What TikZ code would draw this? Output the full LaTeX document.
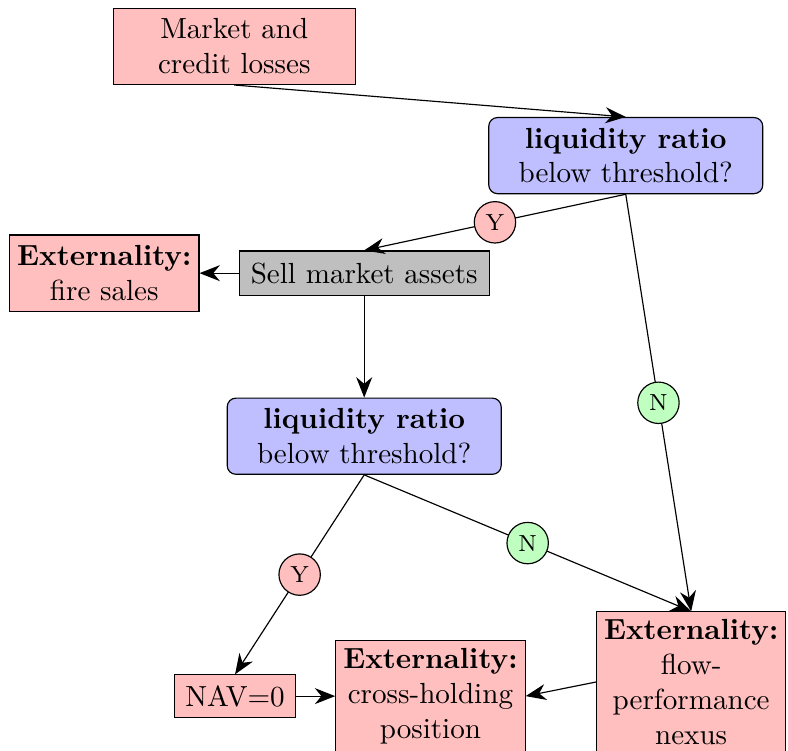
\documentclass[tikz,border=0pt]{standalone}
\usepackage{tikz}
\usetikzlibrary{arrows.meta}

\begin{document}
\begin{tikzpicture}[>={Stealth[length=7pt,width=5.5pt]}]
\tikzstyle{b}=[draw,align=center,fill=red!25,inner sep=2.6pt]
\tikzstyle{q}=[draw,align=center,rounded corners=3pt,fill=blue!25,minimum width=3.31cm,minimum height=0.92cm,inner sep=2.5pt]
\tikzstyle{yes}=[draw,circle,fill=red!25,font=\footnotesize,minimum size=0.5cm,inner sep=1pt]
\tikzstyle{no}=[yes,fill=green!25]
\useasboundingbox (0,0) rectangle (9.52,-9.07);
% boxes
\node[b,minimum width=2.92cm,minimum height=0.92cm] (mkt) at (2.83,-0.56) {Market and\\ credit losses};
\node[q] (liq1) at (7.56,-1.88) {\textbf{liquidity ratio}\\ below threshold?};
\node[draw,fill=gray!50,inner sep=4pt] (sell) at (4.40,-3.30) {Sell market assets};
\node[b,minimum height=0.92cm] (fire) at (1.26,-3.30) {\textbf{Externality:}\\ fire sales};
\node[q] (liq2) at (4.40,-5.27) {\textbf{liquidity ratio}\\ below threshold?};
\node[b,inner sep=3.6pt] (nav) at (2.84,-8.41) {NAV=0};
\node[b] (cross) at (5.20,-8.41) {\textbf{Externality:}\\ cross-holding\\ position};
\node[b] (flow) at (8.35,-8.24) {\textbf{Externality:}\\ flow-\\ performance\\ nexus};
% arrows
\draw[->] (mkt.south) -- (liq1.north);
\draw[->] (liq1.south) -- node[yes] (y1) {Y} (sell.north);
\draw[->] (liq1.south) -- node[no] (n1) {N} (flow.north);
\draw[->] (sell.west) -- (fire.east);
\draw[->] (sell.south) -- (liq2.north);
\draw[->] (liq2.south) -- node[yes] (y2) {Y} (nav.north);
\draw[->] (liq2.south) -- node[no] (n2) {N} (flow.north);
\draw[->] (nav.east) -- (cross.west);
\draw[->] (flow.west) -- (cross.east);
\end{tikzpicture}
\end{document}
